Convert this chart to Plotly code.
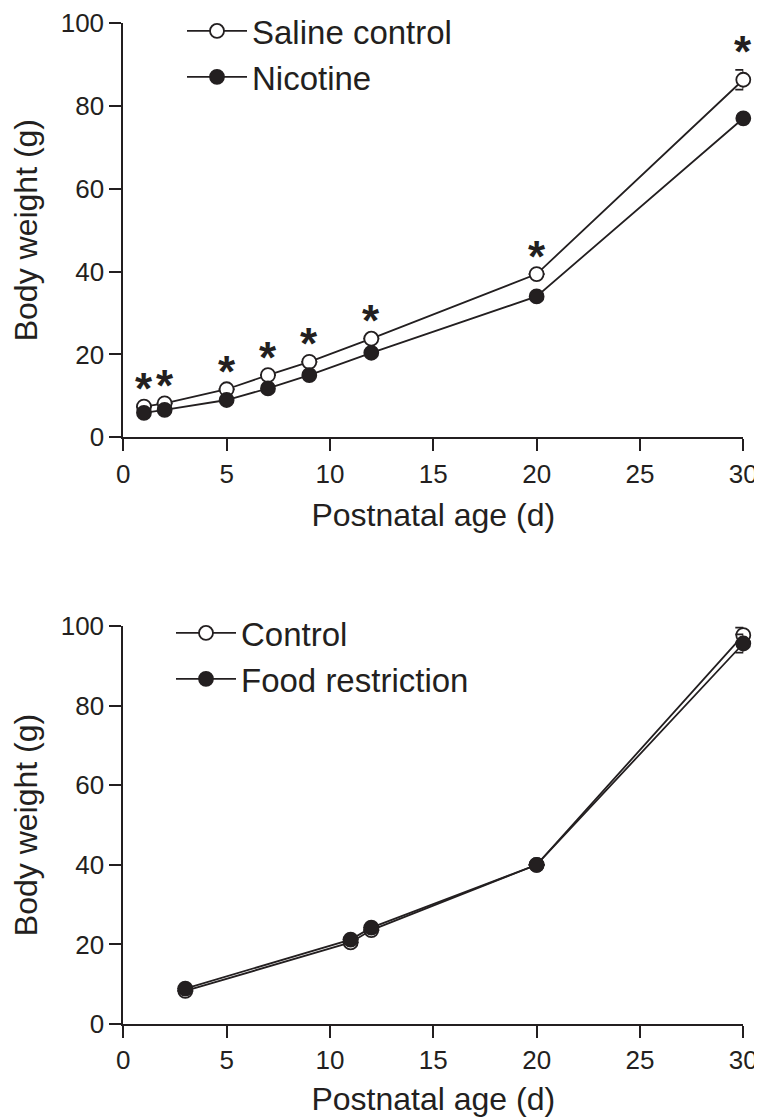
import plotly.graph_objects as go

# ---- data ----
days_top = [1, 2, 5, 7, 9, 12, 20, 30]
saline = [7.4, 8.2, 11.6, 15.0, 18.2, 23.8, 39.4, 86.3]
saline_err = [0, 0, 0, 0, 0, 0, 0, 2.4]
nicotine = [5.9, 6.6, 9.0, 11.8, 15.0, 20.4, 34.0, 77.0]
sig_top = ["*", "*", "*", "*", "*", "*", "*", "*"]

days_bot = [3, 11, 12, 20, 30]
control = [8.3, 20.5, 23.6, 40.0, 97.7]
control_err = [None, None, None, None, 1.9]
food = [8.9, 21.2, 24.2, 40.0, 95.6]
food_err = [None, None, None, None, 2.3]

x_ticks = [0, 5, 10, 15, 20, 25, 30]
y_ticks = [0, 20, 40, 60, 80, 100]

INK = "#231f20"
FONT = "Liberation Sans, Arial, Helvetica, sans-serif"
# page body has an 8px margin, so the figure is drawn at (8, 8)
W, H = 754, 1109
OFF = 8

fig = go.Figure()

def err(arr):
    return dict(type="data", array=arr, symmetric=True, color=INK, thickness=1.8, width=8, visible=True)

saline_err_bar = [e if e else None for e in saline_err]

# top panel
fig.add_trace(go.Scatter(
    x=days_top, y=saline, name="Saline control", mode="lines+markers",
    line=dict(color=INK, width=1.8),
    marker=dict(symbol="circle", size=14, color="white", line=dict(color=INK, width=1.8)),
    error_y=err(saline_err_bar), cliponaxis=False, xaxis="x", yaxis="y", legend="legend"))
fig.add_trace(go.Scatter(
    x=days_top, y=nicotine, name="Nicotine", mode="lines+markers",
    line=dict(color=INK, width=1.8),
    marker=dict(symbol="circle", size=14, color=INK, line=dict(color=INK, width=1.8)),
    cliponaxis=False, xaxis="x", yaxis="y", legend="legend"))

# significance stars above the saline points (and their error bars)
for d, v, e, s in zip(days_top, saline, saline_err, sig_top):
    fig.add_annotation(x=d, y=v + e, xref="x", yref="y", text=s, showarrow=False,
                       yshift=18, font=dict(family=FONT, size=44, color=INK, weight="bold"))

# bottom panel
fig.add_trace(go.Scatter(
    x=days_bot, y=control, name="Control", mode="lines+markers",
    line=dict(color=INK, width=1.8),
    marker=dict(symbol="circle", size=14, color="white", line=dict(color=INK, width=1.8)),
    error_y=err(control_err), cliponaxis=False, xaxis="x2", yaxis="y2", legend="legend2"))
fig.add_trace(go.Scatter(
    x=days_bot, y=food, name="Food restriction", mode="lines+markers",
    line=dict(color=INK, width=1.8),
    marker=dict(symbol="circle", size=14, color=INK, line=dict(color=INK, width=1.8)),
    error_y=err(food_err), cliponaxis=False, xaxis="x2", yaxis="y2", legend="legend2"))

xd = [(123.3 - OFF) / W, (743.3 - OFF) / W]
top_d = [1 - (437.3 - OFF) / H, 1 - (23 - OFF) / H]
bot_d = [1 - (1024 - OFF) / H, 1 - (626 - OFF) / H]

def xax(anchor):
    return dict(domain=xd, range=[0, 30], tickvals=x_ticks, showline=True, linecolor=INK, linewidth=2,
                ticks="outside", ticklen=12, tickwidth=1.8, tickcolor=INK, showgrid=False, zeroline=False,
                tickfont=dict(family=FONT, size=26, color=INK), anchor=anchor, automargin=False,
                title=dict(text="Postnatal age (d)", font=dict(family=FONT, size=32, color=INK), standoff=16))

def yax(dom, anchor):
    return dict(domain=dom, range=[0, 100], tickvals=y_ticks, showline=True, linecolor=INK, linewidth=2,
                ticks="outside", ticklen=12, tickwidth=1.8, tickcolor=INK, showgrid=False, zeroline=False,
                tickfont=dict(family=FONT, size=26, color=INK), anchor=anchor, automargin=False,
                title=dict(text="Body weight (g)", font=dict(family=FONT, size=32, color=INK), standoff=14))

leg_common = dict(font=dict(family=FONT, size=33, color=INK), bgcolor="rgba(0,0,0,0)",
                  xanchor="left", yanchor="top", itemwidth=60, tracegroupgap=0)

fig.update_layout(
    width=W, height=H, margin=dict(l=0, r=0, t=0, b=0, autoexpand=False),
    paper_bgcolor="white", plot_bgcolor="white",
    font=dict(family=FONT, color=INK),
    xaxis=xax("y"), yaxis=yax(top_d, "x"),
    xaxis2=xax("y2"), yaxis2=yax(bot_d, "x2"),
    legend=dict(x=174 / W, y=1 + 5 / H, **leg_common),
    legend2=dict(x=163 / W, y=1 - 597 / H, **leg_common),
    showlegend=True,
)

fig.write_html("out.html", post_script="document.documentElement.style.overflow='hidden';")
